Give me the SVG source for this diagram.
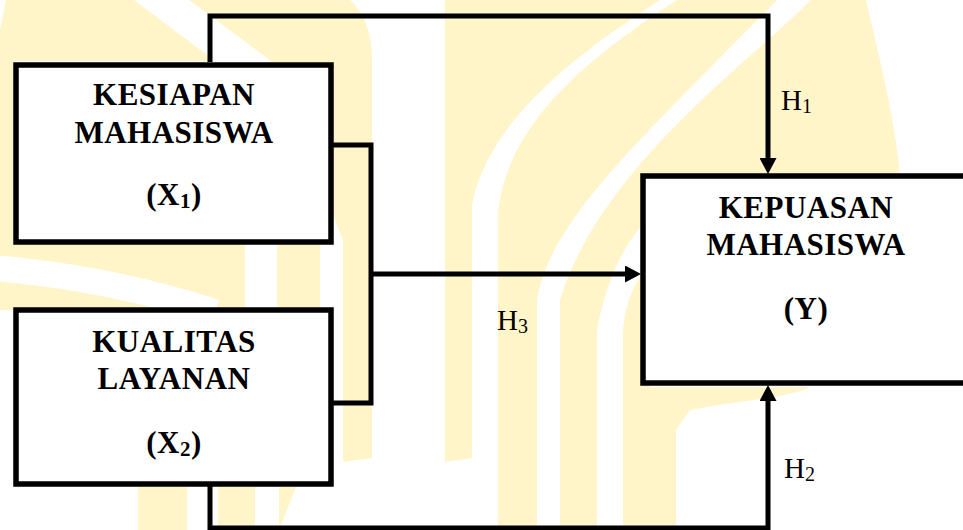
<svg xmlns="http://www.w3.org/2000/svg" width="963" height="530" viewBox="0 0 963 530">
<defs>
<style>
.wm{fill:#FFF5C9;stroke:none}
.wmw{fill:none;stroke:#FFFFFF}
.box{fill:#FFFFFF;stroke:#000000;stroke-width:5.5}
.con{fill:none;stroke:#000000;stroke-width:5;stroke-linejoin:miter}
.t{font-family:"Liberation Serif","Times New Roman",serif;font-weight:bold;font-size:31px;letter-spacing:0.5px;fill:#000000;text-anchor:middle}
.h{font-family:"Liberation Serif","Times New Roman",serif;font-size:29px;fill:#000000}
</style>
<marker id="ah" markerUnits="userSpaceOnUse" markerWidth="16" markerHeight="17" refX="0" refY="8.5" orient="auto">
<path d="M0,0 L16,8.5 L0,17 Z" fill="#000000"/>
</marker>
</defs>
<rect x="0" y="0" width="963" height="530" fill="#FFFFFF"/>
<g id="watermark">
<path class="wm" d="M6,0 L134,0 L215,61 L13,61 L13,245 L0,245 L0,30 Z"/>
<path class="wm" d="M189,0 L350,0 Q372,20 372,60 L372,458 L343,462 L343,240 L271,61 Z"/>
<rect class="wm" x="0" y="243" width="245" height="67"/>
<path class="wmw" stroke-width="26" d="M-5,268 Q110,278 215,312"/>
<rect class="wm" x="277" y="243" width="43" height="67"/>
<path class="wm" d="M445,462 L445,0 L660,0 C600,40 490,110 472,205 L472,458 Z"/>
<path class="wm" d="M677,0 C600,50 505,120 498,215 L498,530 L537,530 L537,300 C550,220 640,140 777,0 Z"/>
<path class="wm" d="M811,0 C740,70 600,170 560,300 L560,530 L597,530 L597,330 C610,260 640,210 700,180 L900,175 C895,120 880,60 866,0 Z"/>
<path class="wm" d="M623,530 L623,330 C626,300 635,280 650,265 L650,387 L810,387 C790,398 740,400 690,410 L676,430 L676,530 Z"/>
<rect class="wm" x="138" y="487" width="49" height="43"/>
<rect class="wm" x="218" y="487" width="37" height="43"/>
<path class="wm" d="M279,487 L296,487 L279,530 Z"/>
</g>
<g id="connectors">
<path class="con" d="M210,62 V16 H768 V158" marker-end="url(#ah)"/>
<path class="con" d="M210,486 V528 H768 V401" marker-end="url(#ah)"/>
<path class="con" d="M333,145 H371 V403 H333"/>
<path class="con" d="M371,274 H625" marker-end="url(#ah)"/>
</g>
<g id="node-x1">
<rect class="box" x="16" y="65" width="315" height="177"/>
<text class="t" x="174" y="105">KESIAPAN</text>
<text class="t" x="174" y="143">MAHASISWA</text>
<text class="t" x="174" y="205">(X<tspan font-size="21" dy="3">1</tspan><tspan dy="-3">)</tspan></text>
</g>
<g id="node-x2">
<rect class="box" x="16" y="310" width="315" height="174"/>
<text class="t" x="174" y="352">KUALITAS</text>
<text class="t" x="174" y="389">LAYANAN</text>
<text class="t" x="174" y="453">(X<tspan font-size="21" dy="3">2</tspan><tspan dy="-3">)</tspan></text>
</g>
<g id="node-y">
<rect class="box" x="643" y="176" width="335" height="207"/>
<text class="t" x="806" y="218">KEPUASAN</text>
<text class="t" x="806" y="255">MAHASISWA</text>
<text class="t" x="806" y="319">(Y)</text>
</g>
<g id="labels">
<text class="h" x="781" y="110">H<tspan font-size="20" dy="3">1</tspan></text>
<text class="h" x="784" y="478">H<tspan font-size="20" dy="3">2</tspan></text>
<text class="h" x="497" y="330">H<tspan font-size="20" dy="3">3</tspan></text>
</g>
</svg>
